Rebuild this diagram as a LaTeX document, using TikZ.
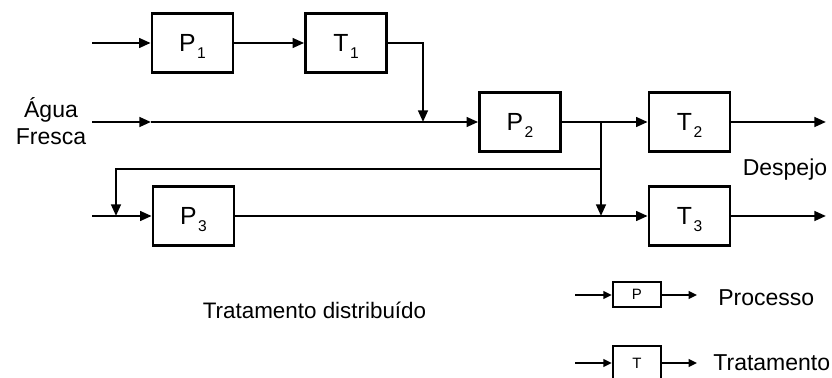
\documentclass[tikz,border=0pt]{standalone}
\usepackage{fontspec}
\setmainfont{Liberation Sans}
\usetikzlibrary{arrows.meta}
% lowered index that does not shift the letter's vertical centring
\newcommand{\lowsub}[1]{\kern0.8pt\smash{\raisebox{-3.7pt}{\fontsize{7.8}{8}\selectfont #1}}}
\begin{document}
\begin{tikzpicture}[x=0.5pt,y=-0.5pt,
  flow/.style={line width=1.2pt},
  arr/.style={flow,-{Triangle[length=5.8pt,width=4.8pt]}},
  sarr/.style={flow,-{Triangle[length=4.2pt,width=3.8pt]}},
  unit/.style={draw,line width=1.3pt,inner sep=0pt,minimum width=40.5pt,minimum height=29.5pt,font=\fontsize{12.4}{12.4}\selectfont},
  keybox/.style={draw,line width=1.25pt,inner sep=0pt,minimum width=24pt,font=\fontsize{7.5}{8}\selectfont},
  lbl/.style={font=\fontsize{11.5}{13.5}\selectfont,inner sep=0pt}]
\useasboundingbox (0,0) rectangle (832,378);
\begin{scope}
\clip (0,0) rectangle (832,378);

% process and treatment units
\node[unit] (P1) at (192.5,43) {P\lowsub{1}};
\node[unit] (T1) at (346,43) {T\lowsub{1}};
\node[unit] (P2) at (520,122) {P\lowsub{2}};
\node[unit] (T2) at (689.5,122) {T\lowsub{2}};
\node[unit] (P3) at (193.5,216) {P\lowsub{3}};
\node[unit] (T3) at (689.5,216) {T\lowsub{3}};

% stream end points and junctions
\coordinate (in1) at (92,43);
\coordinate (in2) at (92,122);
\coordinate (mid2) at (151,122);
\coordinate (in3) at (92,216);
\coordinate (t1turn) at (423,43);
\coordinate (t1join) at (423,122);
\coordinate (split) at (601,122);
\coordinate (fb) at (601,169);
\coordinate (fbturn) at (116,169);
\coordinate (fbjoin) at (116,216);
\coordinate (join3) at (601,216);
\coordinate (out2) at (826,122);
\coordinate (out3) at (826,216);

% first branch
\draw[arr] (in1) -- (P1);
\draw[arr] (P1) -- (T1);
\draw[arr] (T1.east) -- (t1turn) -- (t1join);

% fresh water line
\draw[arr] (in2) -- (mid2);
\draw[arr] (mid2) -- (P2);
\draw[arr] (P2) -- (T2);
\draw[arr] (T2) -- (out2);

% recycle and split
\draw[arr] (split) -- (join3);
\draw[arr] (fb) -- (fbturn) -- (fbjoin);

% third branch
\draw[arr] (in3) -- (P3);
\draw[arr] (P3) -- (T3);
\draw[arr] (T3) -- (out3);

% labels
\node[lbl,align=center] (agua) at (51,121) {Água\\Fresca};
\node[lbl,anchor=base] (desp) at (785,176) {Despejo};
\node[lbl,anchor=base,font=\fontsize{11.2}{13}\selectfont] (title) at (314.5,319) {Tratamento distribuído};

% key
\node[keybox,minimum height=12.5pt] (kP) at (637,294.5) {P};
\coordinate (kPin) at (575,295);
\coordinate (kPout) at (697,295);
\draw[sarr] (kPin) -- (kPin -| kP.west);
\draw[sarr] (kPout -| kP.east) -- (kPout);
\node[lbl,anchor=base west] (kPtxt) at (718,306) {Processo};

\node[keybox,minimum height=17.5pt] (kT) at (637,363.5) {T};
\coordinate (kTin) at (575,363);
\coordinate (kTout) at (697,363);
\draw[sarr] (kTin) -- (kTin -| kT.west);
\draw[sarr] (kTout -| kT.east) -- (kTout);
\node[lbl,anchor=base west] (kTtxt) at (713,371) {Tratamento};
\end{scope}
\end{tikzpicture}
\end{document}
